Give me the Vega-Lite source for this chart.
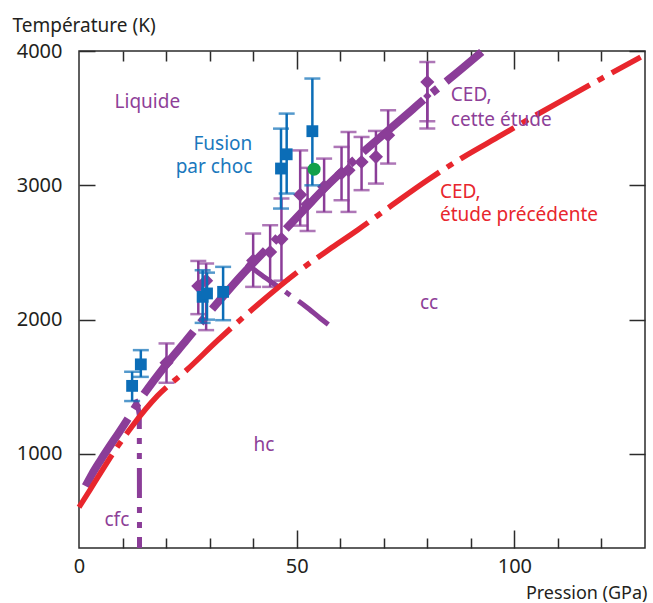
{
  "$schema": "https://vega.github.io/schema/vega-lite/v6.json",
  "width": 566,
  "height": 497,
  "autosize": {"type": "none"},
  "padding": {"left": 79, "top": 51, "right": 8, "bottom": 55},
  "background": "white",
  "config": {
    "view": {"stroke": "#2b2b2b", "strokeWidth": 1.5},
    "font": "Noto Sans",
    "axis": {"domain": false, "grid": false, "tickColor": "#2b2b2b", "tickWidth": 1.5, "labelFont": "Noto Sans", "labelFontSize": 20, "labelColor": "#231f20", "titleFont": "Noto Sans", "titleFontSize": 19, "titleFontWeight": "normal", "titleColor": "#231f20"}
  },
  "datasets": {
    "red": [{"p":0,"t":603},{"p":2.5,"t":731},{"p":5,"t":862},{"p":8.3,"t":1029},{"p":12.1,"t":1202},{"p":18,"t":1432},{"p":24.7,"t":1624},{"p":32,"t":1850},{"p":41,"t":2110},{"p":50,"t":2350},{"p":58,"t":2535},{"p":64,"t":2668},{"p":72,"t":2855},{"p":80,"t":3038},{"p":88,"t":3205},{"p":97,"t":3373},{"p":104,"t":3505},{"p":111,"t":3633},{"p":120,"t":3795},{"p":129,"t":3955}],
    "ced": [{"p":1.5,"t":760},{"p":3,"t":850},{"p":5,"t":955},{"p":10,"t":1200},{"p":15,"t":1450},{"p":20,"t":1665},{"p":24.7,"t":1848},{"p":28.5,"t":2000},{"p":33,"t":2170},{"p":37,"t":2318},{"p":41,"t":2455},{"p":45,"t":2590},{"p":50,"t":2760},{"p":53.4,"t":2877},{"p":56,"t":2965},{"p":60,"t":3090},{"p":65,"t":3240},{"p":70,"t":3380},{"p":75,"t":3520},{"p":80,"t":3660},{"p":85,"t":3790},{"p":92.5,"t":3993}],
    "fcc_hcp": [{"p":12.9,"t":1405},{"p":13.5,"t":1360},{"p":13.85,"t":1290},{"p":13.9,"t":300}],
    "hcp_bcc": [{"p":38.5,"t":2418},{"p":42,"t":2330},{"p":45.8,"t":2244},{"p":48.5,"t":2182},{"p":52,"t":2100},{"p":55.4,"t":2011},{"p":58,"t":1945}],
    "ced_pts": [
      {"p":20.1,"t":1680,"lo":1530,"hi":1823},
      {"p":27.4,"t":2250,"lo":2041,"hi":2437},
      {"p":29.2,"t":2290,"lo":1922,"hi":2418},
      {"p":40,"t":2440,"lo":2244,"hi":2641},
      {"p":43.9,"t":2504,"lo":2244,"hi":2703},
      {"p":46.5,"t":2600,"lo":2290,"hi":2902},
      {"p":50.8,"t":2930,"lo":2700,"hi":3260},
      {"p":52.5,"t":2860,"lo":2660,"hi":3130},
      {"p":56.3,"t":2990,"lo":2802,"hi":3199},
      {"p":60.3,"t":3090,"lo":2889,"hi":3286},
      {"p":61.9,"t":3112,"lo":2802,"hi":3397},
      {"p":64.9,"t":3174,"lo":2964,"hi":3360},
      {"p":68.2,"t":3212,"lo":3013,"hi":3405},
      {"p":71.0,"t":3373,"lo":3162,"hi":3559},
      {"p":80.0,"t":3769,"lo":3423,"hi":3918}
    ],
    "ced_small": [{"p":80,"t":3665,"lo":3477,"hi":3918}],
    "choc": [
      {"p":12.2,"t":1507,"lo":1394,"hi":1612},
      {"p":14.2,"t":1667,"lo":1574,"hi":1773},
      {"p":28.4,"t":2170,"lo":1976,"hi":2368},
      {"p":29.4,"t":2195,"lo":2000,"hi":2350},
      {"p":33.1,"t":2207,"lo":1996,"hi":2393},
      {"p":46.4,"t":3125,"lo":2827,"hi":3422},
      {"p":47.7,"t":3231,"lo":2939,"hi":3534},
      {"p":53.6,"t":3403,"lo":3000,"hi":3795}
    ],
    "green": [{"p":54.0,"t":3120}],
    "txt_purple_c": [{"p":15.7,"t":3620,"label":"Liquide"},{"p":80.4,"t":2121,"label":"cc"},{"p":42.5,"t":1065,"label":"hc"},{"p":8.7,"t":509,"label":"cfc"}],
    "txt_purple_l": [{"p":85.4,"t":3670,"label":"CED,"},{"p":85.4,"t":3484,"label":"cette étude"}],
    "txt_red_l": [{"p":82.9,"t":2951,"label":"CED,"},{"p":82.9,"t":2777,"label":"étude précédente"}],
    "txt_blue_r": [{"p":39.8,"t":3311,"label":"Fusion"},{"p":39.8,"t":3137,"label":"par choc"}]
  },
  "encoding": {
    "x": {"field": "p", "type": "quantitative", "scale": {"domain": [0, 130], "nice": false, "zero": false}, "axis": null},
    "y": {"field": "t", "type": "quantitative", "scale": {"domain": [300, 4000], "nice": false, "zero": false}, "axis": null}
  },
  "layer": [
    {
      "data": {"name": "fcc_hcp"},
      "mark": {"type": "line", "color": "#8b3d98", "strokeWidth": 5, "strokeDash": [30, 9, 6, 9, 6, 9], "strokeCap": "butt"},
      "encoding": {
        "x": {"field": "p", "type": "quantitative", "scale": {"domain": [0, 130], "nice": false, "zero": false}, "axis": {"orient": "bottom", "values": [10, 20, 30, 40, 60, 70, 80, 90, 110, 120], "tickSize": -10, "labels": false, "title": null}},
        "y": {"field": "t", "type": "quantitative", "scale": {"domain": [300, 4000], "nice": false, "zero": false}, "axis": {"orient": "right", "values": [1000, 2000, 3000, 4000], "tickSize": -16, "labels": false, "title": null}},
        "order": {"value": null}
      }
    },
    {
      "data": {"name": "hcp_bcc"},
      "mark": {"type": "line", "color": "#8b3d98", "strokeWidth": 5, "strokeDash": [38, 10, 6, 10], "strokeCap": "butt", "interpolate": "monotone"},
      "encoding": {
        "x": {"field": "p", "type": "quantitative", "scale": {"domain": [0, 130], "nice": false, "zero": false}, "axis": {"orient": "top", "values": [50, 100], "tickSize": -18, "labels": false, "title": null}}
      }
    },
    {
      "data": {"name": "ced"},
      "mark": {"type": "line", "color": "#8b3d98", "strokeWidth": 8, "strokeDash": [80, 11, 7, 11], "strokeCap": "butt", "interpolate": "monotone"},
      "encoding": {
        "x": {"field": "p", "type": "quantitative", "scale": {"domain": [0, 130], "nice": false, "zero": false}, "axis": {"orient": "bottom", "values": [50, 100], "tickSize": -18, "labels": false, "title": null}},
        "y": {"field": "t", "type": "quantitative", "scale": {"domain": [300, 4000], "nice": false, "zero": false}, "axis": {"orient": "left", "values": [1000, 2000, 3000, 4000], "tickSize": -16, "labels": false, "title": null}}
      }
    },
    {
      "data": {"name": "ced_pts"},
      "mark": {"type": "rule", "color": "#8b3d98", "strokeWidth": 2.5},
      "encoding": {
        "y": {"field": "lo", "type": "quantitative", "scale": {"domain": [300, 4000], "nice": false, "zero": false}, "axis": null},
        "y2": {"field": "hi"}
      }
    },
    {
      "data": {"name": "ced_pts"},
      "mark": {"type": "tick", "color": "#8b3d98", "thickness": 2.5, "size": 16, "orient": "horizontal"},
      "encoding": {"y": {"field": "lo", "type": "quantitative", "scale": {"domain": [300, 4000], "nice": false, "zero": false}, "axis": null}}
    },
    {
      "data": {"name": "ced_pts"},
      "mark": {"type": "tick", "color": "#8b3d98", "thickness": 2.5, "size": 16, "orient": "horizontal"},
      "encoding": {"y": {"field": "hi", "type": "quantitative", "scale": {"domain": [300, 4000], "nice": false, "zero": false}, "axis": null}}
    },
    {
      "data": {"name": "ced_pts"},
      "mark": {"type": "point", "shape": "diamond", "filled": true, "color": "#8b3d98", "size": 200, "opacity": 1},
      "encoding": {
        "x": {"field": "p", "type": "quantitative", "scale": {"domain": [0, 130], "nice": false, "zero": false}, "axis": {"orient": "top", "values": [10, 20, 30, 40, 60, 70, 80, 90, 110, 120], "tickSize": -10, "labels": false, "title": null}}
      }
    },
    {
      "data": {"name": "ced_small"},
      "mark": {"type": "rule", "color": "#8b3d98", "strokeWidth": 2.5},
      "encoding": {
        "y": {"field": "lo", "type": "quantitative", "scale": {"domain": [300, 4000], "nice": false, "zero": false}, "axis": null},
        "y2": {"field": "hi"}
      }
    },
    {
      "data": {"name": "ced_small"},
      "mark": {"type": "tick", "color": "#8b3d98", "thickness": 2.5, "size": 16, "orient": "horizontal"},
      "encoding": {"y": {"field": "lo", "type": "quantitative", "scale": {"domain": [300, 4000], "nice": false, "zero": false}, "axis": null}}
    },
    {
      "data": {"name": "ced_small"},
      "mark": {"type": "point", "shape": "diamond", "filled": true, "color": "#8b3d98", "size": 70, "opacity": 1}
    },
    {
      "data": {"name": "red"},
      "mark": {"type": "line", "color": "#e8262d", "strokeWidth": 5.5, "strokeDash": [62, 9, 7, 9], "strokeCap": "butt", "interpolate": "monotone"},
      "encoding": {
        "x": {"field": "p", "type": "quantitative", "scale": {"domain": [0, 130], "nice": false, "zero": false}, "axis": {"orient": "bottom", "values": [0, 50, 100], "format": "d", "labelFlush": false, "ticks": false, "labelPadding": 8, "labelBaseline": "top", "title": "Pression (GPa)", "titleFontSize": 18, "titleX": 568, "titleY": 45, "titleAlign": "right", "titleBaseline": "middle", "titleAnchor": "end"}},
        "y": {"field": "t", "type": "quantitative", "scale": {"domain": [300, 4000], "nice": false, "zero": false}, "axis": {"orient": "left", "values": [1000, 2000, 3000, 4000], "format": "d", "ticks": false, "labelPadding": 17, "title": "Température (K)", "titleAngle": 0, "titleX": -67, "titleY": -26, "titleAlign": "left", "titleBaseline": "middle", "titleAnchor": "start"}}
      }
    },
    {
      "data": {"name": "choc"},
      "mark": {"type": "rule", "color": "#0b6db7", "strokeWidth": 2.5},
      "encoding": {
        "y": {"field": "lo", "type": "quantitative", "scale": {"domain": [300, 4000], "nice": false, "zero": false}, "axis": null},
        "y2": {"field": "hi"}
      }
    },
    {
      "data": {"name": "choc"},
      "mark": {"type": "tick", "color": "#0b6db7", "thickness": 2.5, "size": 16, "orient": "horizontal"},
      "encoding": {"y": {"field": "lo", "type": "quantitative", "scale": {"domain": [300, 4000], "nice": false, "zero": false}, "axis": null}}
    },
    {
      "data": {"name": "choc"},
      "mark": {"type": "tick", "color": "#0b6db7", "thickness": 2.5, "size": 16, "orient": "horizontal"},
      "encoding": {"y": {"field": "hi", "type": "quantitative", "scale": {"domain": [300, 4000], "nice": false, "zero": false}, "axis": null}}
    },
    {
      "data": {"name": "choc"},
      "mark": {"type": "point", "shape": "square", "filled": true, "color": "#0b6db7", "size": 140, "opacity": 1}
    },
    {
      "data": {"name": "green"},
      "mark": {"type": "point", "shape": "circle", "filled": true, "color": "#12a04a", "size": 170, "opacity": 1}
    },
    {
      "data": {"name": "txt_purple_c"},
      "mark": {"type": "text", "color": "#8e3f98", "fontSize": 19, "align": "center", "baseline": "middle", "font": "Noto Sans"},
      "encoding": {"text": {"field": "label"}}
    },
    {
      "data": {"name": "txt_purple_l"},
      "mark": {"type": "text", "color": "#8e3f98", "fontSize": 19, "align": "left", "baseline": "middle", "font": "Noto Sans"},
      "encoding": {"text": {"field": "label"}}
    },
    {
      "data": {"name": "txt_red_l"},
      "mark": {"type": "text", "color": "#e8262d", "fontSize": 19, "align": "left", "baseline": "middle", "font": "Noto Sans"},
      "encoding": {"text": {"field": "label"}}
    },
    {
      "data": {"name": "txt_blue_r"},
      "mark": {"type": "text", "color": "#1a78bd", "fontSize": 19, "align": "right", "baseline": "middle", "font": "Noto Sans"},
      "encoding": {"text": {"field": "label"}}
    }
  ],
  "resolve": {"axis": {"x": "independent", "y": "independent"}}
}
